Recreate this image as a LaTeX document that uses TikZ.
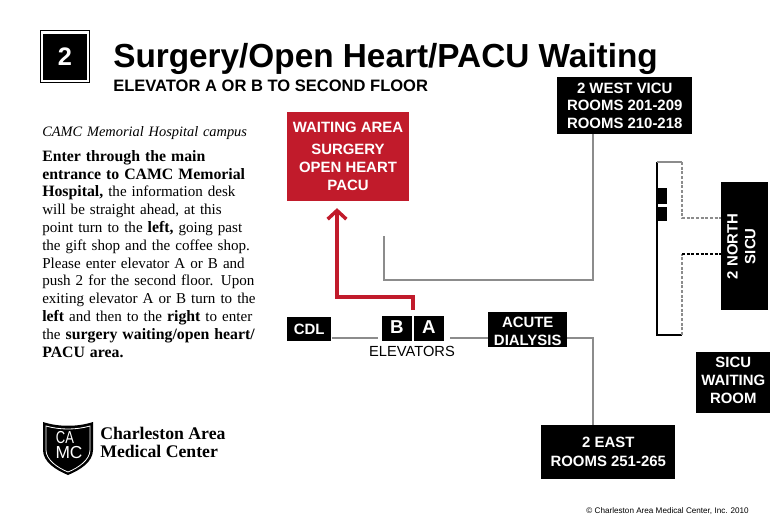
\documentclass[tikz,border=0pt]{standalone}
\usepackage{fontspec}
\setmainfont{Liberation Sans}
\newfontfamily\bookfont{Liberation Serif}
\usetikzlibrary{arrows.meta,calc}
\usetikzlibrary{positioning}
\definecolor{camcred}{HTML}{C11B2B}
\definecolor{linegray}{HTML}{8C8C8C}
\newcommand{\guidebf}[1]{{\fontsize{11.85pt}{13.36pt}\selectfont\bfseries #1}}
\tikzset{
    room/.style={
           rectangle,
           fill=black,
           text=white,
           font=\fontsize{11.2pt}{13.4pt}\selectfont\bfseries,
           align=center,
           inner sep=0pt,
           anchor=north west,
           },
    pil/.style={
           -,
           draw=linegray,
           line width=1pt,},
    dashpil/.style={
           -,
           draw=linegray,
           line width=0.8pt,
           dash pattern=on 2.2pt off 1.3pt,},
    redpil/.style={
           -{Straight Barb[length=6.5pt,width=14pt,line width=2.6pt]},
           draw=camcred,
           line width=2.6pt,
           shorten >=5pt,},
    guide/.style={
           anchor=north west,
           inner sep=0pt,
           align=left,
           text width=180pt,
           font=\bookfont\fontsize{11.3pt}{13.36pt}\selectfont,
           },
}
\begin{document}
\begin{tikzpicture}[x=0.75pt,y=-0.75pt]
\useasboundingbox (0,0) rectangle (776,518);
% HEADER
% Position of floor number (FLOOR)
\node[draw=black, line width=0.8pt, fill=white, minimum width=37pt, minimum height=39pt, inner sep=0pt] (FRAME) at (65,56.5) {};
\node[fill=black, text=white, minimum width=32.5pt, minimum height=34.5pt, inner sep=0pt,
font=\fontsize{19pt}{19pt}\selectfont\bfseries] (FLOOR) at (FRAME.center) {2};
% Position of title (TITLE)
\node[anchor=base west, inner sep=0pt, font=\fontsize{25pt}{25pt}\selectfont\bfseries] (TITLE) at (113,67)
{Surgery/Open Heart/PACU Waiting};
\node[anchor=base west, inner sep=0pt, font=\fontsize{12.4pt}{12.4pt}\selectfont\bfseries] (SUBTITLE) at (113,91)
{ELEVATOR A OR B TO SECOND FLOOR};
% DIRECTIONS
% Position of campus line (CAMPUS)
\node[guide, font=\bookfont\itshape\fontsize{10.8pt}{13.36pt}\selectfont] (CAMPUS) at (42,126)
{CAMC Memorial Hospital campus};
% Position of directions (GUIDE)
\node[guide] (GUIDE) at (42,150)
{\guidebf{Enter through the main}\\
\guidebf{entrance to CAMC Memorial}\\
\guidebf{Hospital,} the information desk\\
will be straight ahead, at this\\
point turn to the \guidebf{left,} going past\\
the gift shop and the coffee shop.\\
Please enter elevator A or B and\\
push 2 for the second floor. Upon\\
exiting elevator A or B turn to the\\
\guidebf{left} and then to the \guidebf{right} to enter\\
the \guidebf{surgery waiting/open heart/}\\
\guidebf{PACU area.}};
% ROOMS
% Position of Waiting area (WAITING)
\node[room, fill=camcred, minimum width=91.5pt, minimum height=66.7pt] (WAITING) at (287,112) {};
\node[text=white, font=\fontsize{11.2pt}{13.4pt}\selectfont\bfseries, align=center, inner sep=0pt] (WAITTEXT) at (348,156)
{WAITING AREA\\[3.4pt]SURGERY\\OPEN HEART\\PACU};
% Position of 2 West (WEST)
\node[room, minimum width=101.2pt, minimum height=42.7pt] (WEST) at (557,77)
{2 WEST VICU\\ROOMS 201-209\\ROOMS 210-218};
% Position of CDL (CDL)
\node[room, minimum width=33pt, minimum height=17.5pt] (CDL) at (287,317) {CDL};
% Position of elevators (ELEVB, ELEVA)
\node[room, minimum width=22pt, minimum height=18.8pt, font=\fontsize{14pt}{14pt}\selectfont\bfseries] (ELEVB) at (382,316) {B\rule[-3pt]{0pt}{3pt}};
\node[room, minimum width=22pt, minimum height=18.8pt, font=\fontsize{14pt}{14pt}\selectfont\bfseries] (ELEVA) at (414,316) {A\rule[-3pt]{0pt}{3pt}};
\node[inner sep=0pt, font=\fontsize{11pt}{11pt}\selectfont] (ELEVATORS) at (412,351) {ELEVATORS};
% Position of Acute dialysis (DIALYSIS)
\node[room, minimum width=59.2pt, minimum height=26.2pt] (DIALYSIS) at (488,312) {\rule{0pt}{10pt}ACUTE\\DIALYSIS};
% Position of 2 East (EAST)
\node[room, minimum width=100.5pt, minimum height=40.5pt] (EAST) at (541,425) {2 EAST\\[0.9pt]ROOMS 251-265};
% Position of 2 North (NORTH)
\node[room, minimum width=35.2pt, minimum height=96pt] (NORTH) at (721,182) {};
\node[rotate=90, text=white, font=\fontsize{11.2pt}{13.4pt}\selectfont\bfseries, align=center, inner sep=0pt, yshift=2.5pt] (NORTHTEXT) at (NORTH.center) {2 NORTH\\SICU};
% Position of Sicu waiting (SICU)
\node[room, minimum width=55.5pt, minimum height=45.7pt] (SICU) at (696,352) {SICU\\WAITING\\ROOM\rule[-3.5pt]{0pt}{3.5pt}};
% Position of wing and its two small rooms (WINGB, WINGA)
\coordinate (WINGNW) at (657,162);
\coordinate (WINGNE) at (682,162);
\coordinate (WINGSW) at (657,335);
\coordinate (WINGSE) at (682,335);
\node[room, minimum width=7.5pt, minimum height=12pt] (WINGB) at (657,188) {};
\node[room, minimum width=7.5pt, minimum height=10.5pt] (WINGA) at (657,207) {};
% Position of corners
\coordinate (CORRIDOR) at (0,338);
\coordinate (WESTEND) at (384,236);
\coordinate (WESTDROP) at (593,280);
\coordinate (NORTHUP) at (682,218);
\coordinate (NORTHLOW) at (682,254);
\coordinate (REDSTART) at (413,310);
\coordinate (REDTURN) at (337,297);
% Draw lines on graph
\draw[pil] (WEST.south -| WESTDROP) -- (WESTDROP) -- (WESTDROP -| WESTEND) -- (WESTEND);
\draw[pil, shorten >=3pt] (CDL.east |- CORRIDOR) -- (ELEVB.west |- CORRIDOR);
\draw[pil, shorten <=4.5pt] (ELEVA.east |- CORRIDOR) -- (DIALYSIS.west |- CORRIDOR);
\draw[pil] (DIALYSIS.east |- CORRIDOR) -- (WESTDROP |- CORRIDOR) -- (WESTDROP |- EAST.north);
\draw[redpil] (REDSTART) -- (REDSTART |- REDTURN) -- (REDTURN) -- (REDTURN |- WAITING.south);
\draw[-, black, line width=0.8pt] (WINGNW) -- (WINGSW) -- (WINGSE);
\draw[pil] (WINGNW) -- (WINGNE);
\draw[dashpil] (WINGNE) -- (NORTHUP) -- (NORTHUP -| NORTH.west);
\draw[dashpil] (WINGSE) -- (NORTHLOW);
\draw[dashpil, draw=black] (NORTHLOW) -- (NORTHLOW -| NORTH.west);
% LOGO
% Position of shield (SHIELD)
\coordinate (SHIELD) at (68,448);
\fill[black] (43,422) .. controls (58,427) and (78,427) .. (93,422) -- (93,450) .. controls (93,462) and (80,470) .. (68,475) .. controls (56,470) and (43,462) .. (43,450) -- cycle;
\draw[white, line width=0.6pt] (46,426) .. controls (60,430) and (76,430) .. (90,426) -- (90,450) .. controls (90,460) and (78,468) .. (68,472) .. controls (58,468) and (46,460) .. (46,450) -- cycle;
\node[text=white, inner sep=0pt, font=\fontsize{13pt}{13pt}\selectfont] (LOGOCA) at ($(SHIELD)+(-3,-10.5)$) {\scalebox{0.75}[1]{CA}};
\node[text=white, inner sep=0pt, font=\fontsize{13pt}{13pt}\selectfont] (LOGOMC) at ($(SHIELD)+(1,5)$) {MC};
\node[anchor=north west, inner sep=0pt, align=left, font=\bookfont\bfseries\fontsize{13.3pt}{13.5pt}\selectfont] (CAMC) at (100,426.5)
{Charleston Area\\Medical Center};
% Position of copyright (COPYRIGHT)
\node[anchor=base east, inner sep=0pt, font=\fontsize{6.1pt}{6.1pt}\selectfont] (COPYRIGHT) at (749,513)
{© Charleston Area Medical Center, Inc. 2010};
\end{tikzpicture}
\end{document}
